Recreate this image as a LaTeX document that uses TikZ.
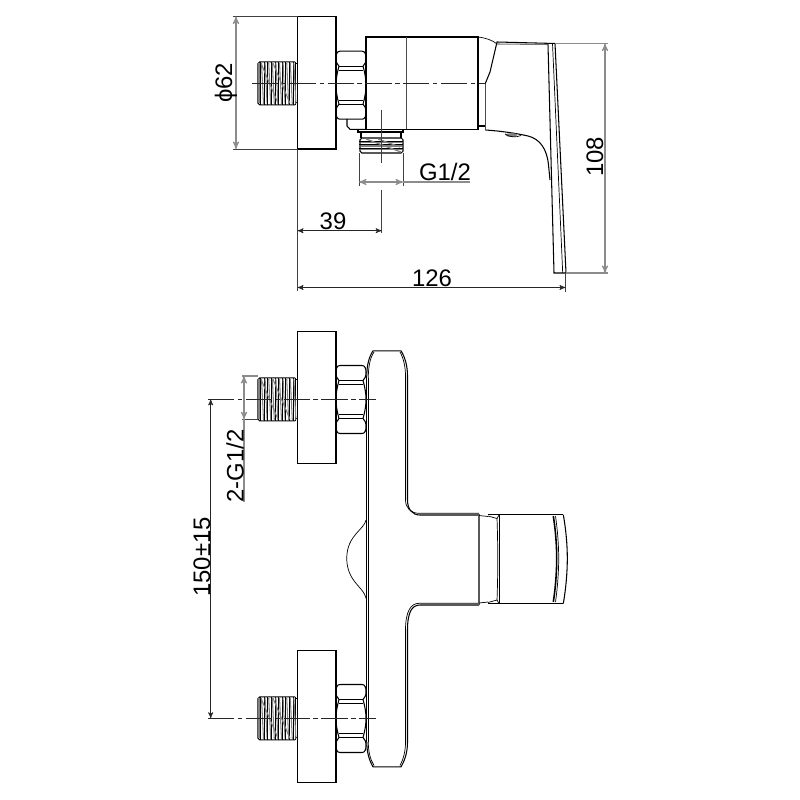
\documentclass[tikz,border=0pt]{standalone}
\usepackage{fontspec}
\setmainfont{Liberation Sans}
\usetikzlibrary{arrows}
\tikzset{
  part/.style={line width=0.6pt, black},
  fine/.style={line width=0.4pt, black},
  dim/.style={line width=0.35pt, black!85, >=stealth'},
  softdim/.style={line width=0.6pt, black!45, >=stealth'},
  ext/.style={line width=0.35pt, black!75},
  softext/.style={line width=0.6pt, black!45},
  axis/.style={line width=0.35pt, black!85, dash pattern=on 15pt off 2pt on 2.5pt off 2pt},
  lbl/.style={inner sep=0pt, font=\fontsize{13.6}{16}\selectfont},
}
\begin{document}
\begin{tikzpicture}[x=0.02cm,y=-0.02cm]
    \useasboundingbox (0,0) rectangle (800,800);

    % wall plates
    \draw [part] (297.5,16.5) rectangle (336,149);
    \draw [part] (297.5,331.5) rectangle (336,463.5);
    \draw [part] (297.5,650.5) rectangle (336,782.5);

    % threaded ends
    \foreach \yc in {83.3,399.3,718.3} {
      \begin{scope}[shift={(0,\yc)}]
        \draw [part, rounded corners=1pt] (295,-21.5) -- (258,-21.5) -- (258,21.5) -- (295,21.5);
        \draw [fine] (295,-21.5) -- (295,21.5);
        \draw [fine] (295,-19.5) -- (297.5,-19.5);
        \draw [fine] (295,19.5) -- (297.5,19.5);
        \fill [gray] (258,-20) rectangle (260.5,20);
        \foreach \x in {0,...,9} {
          \draw [fine] ({260.5+\x*3.6},-21.5) -- ({260.5+\x*3.6},21.5);
          \draw [line width=0.6pt, gray] ({261.5+\x*3.6},-20.5) -- ({263.5+\x*3.6},20.5);
        }
        \draw [line width=0.6pt, gray] (261,-20) -- (278,20) (273,-20) -- (290,20);
      \end{scope}
    }

    % nuts
    \foreach \yn in {85.2,399.5,718.5} {
      \foreach \s in {-1,1} {
        \begin{scope}[shift={(0,\yn)},yscale=\s]
          \draw [part] (340,-34) -- (362,-34)
            .. controls (365,-34) and (366,-31) .. (366,-27)
            .. controls (366,-23) and (365,-21) .. (363,-19)
            .. controls (365,-12) and (366,-6) .. (366,0);
          \draw [part] (340,-34)
            .. controls (337,-34) and (336,-31) .. (336,-27)
            .. controls (336,-23) and (337,-21) .. (339,-19)
            .. controls (337,-12) and (336,-6) .. (336,0);
          \draw [part] (339,-19) -- (363,-19);
          \draw [part] (339,-15) -- (363,-15);
        \end{scope}
      }
    }

    % side view body
    \draw [part] (366,37) rectangle (478,129.3);
    \draw [line width=0.6pt, black!70] (406.7,37) -- (406.7,129.3);
    \draw [part] (347,119) -- (347,126) -- (350,129.3) -- (366,129.3);
    \draw [part] (358,129.3) -- (358,132) -- (403,132) -- (403,129.3);
    \draw [part] (361,132) -- (361,138) (401,132) -- (401,138);
    \draw [part, rounded corners=1pt] (360,138) -- (403,138) -- (403,153) -- (360,153) -- cycle;
    \foreach \yt in {141,144.5,148} {
      \draw [fine] (359,\yt) -- (403,\yt);
      \draw [line width=0.6pt, gray] (361,{\yt+1.5}) -- (402,{\yt+1.5});
    }
    \draw [line width=0.7pt, gray] (366,139) -- (401,152);
    \draw [line width=0.7pt, gray] (378,139) -- (400,147);

    % side view handle
    \draw [fine] (478,37) .. controls (486,38) and (492,40) .. (497,44);
    \draw [part] (478,126) -- (485.5,126);
    \draw [line width=0.6pt, black!70] (485.5,83) -- (485.5,130);
    \draw [part] (485.5,83) -- (490,72) -- (497,42) -- (555,43.5);
    \draw [line width=0.6pt, black!55] (497,44) -- (548,44.5);
    \draw [part] (555,43.5) -- (566,273) -- (554,273) -- (548,44.5);
    \draw [fine] (552.5,43.5) -- (562.7,273);
    \draw [part] (485.5,130) .. controls (500,131) and (515,133) .. (528,136)
      .. controls (540,139) and (547,149) .. (548.5,165) -- (550,180);
    \fill [gray] (511.5,135) ellipse (6 and 1.8);
    \draw [fine] (505,134) .. controls (510,137.5) and (516,137.5) .. (521,135.5);

    % front view body
    \draw [part] (366.8,742) -- (366.8,376);
    \draw [part] (368.3,742) -- (368.3,378);
    \draw [part] (366.8,376) .. controls (366.8,365) and (369,357) .. (373,350.8) -- (401,350.8)
      .. controls (405,357) and (407.5,366) .. (407.5,376) -- (407.5,500)
      .. controls (407.5,509) and (412,515) .. (420,515) -- (479,515);
    \draw [fine] (368.3,378) .. controls (368.3,367) and (370,358) .. (374,352);
    \draw [fine] (400,352) .. controls (403.5,358) and (405.5,367) .. (405.5,376) -- (405.5,500)
      .. controls (405.5,508) and (411,513.3) .. (419,513.3) -- (479,513.3);
    \draw [part] (366.8,742) .. controls (366.8,752) and (369,760) .. (373,766.8) -- (401,766.8)
      .. controls (405,760) and (407.5,752) .. (407.5,742) -- (407.5,630)
      .. controls (407.5,612) and (412,605) .. (420,605) -- (479,605);
    \draw [fine] (368.3,742) .. controls (368.3,751) and (370,759) .. (374,765.5);
    \draw [fine] (400,765.5) .. controls (403.5,759) and (405.5,751) .. (405.5,742) -- (405.5,630)
      .. controls (405.5,611) and (411,603.3) .. (419,603.3) -- (479,603.3);
    \draw [fine] (366,520) .. controls (364,530) and (347,535) .. (346.7,558.3)
      .. controls (347,582) and (364,587) .. (366,598.3);

    % front view handle
    \draw [line width=0.7pt, black!65] (479,514) -- (479,605);
    \draw [fine] (479,515.5) -- (488,516.5) (479,603) -- (488,602);
    \draw [part] (488,514.8) -- (563.3,514.8) (488,603.6) -- (563.3,603.6);
    \draw [fine] (488,516) -- (497,518.5) -- (499,515) (488,602.5) -- (497,600) -- (499,603.6);
    \draw [line width=1.1pt] (499.5,515) -- (499.5,603.6);
    \draw [fine] (497,518.5) .. controls (498,545) and (498,575) .. (497,600);
    \draw [part] (563.3,514.8) .. controls (566,530) and (567.3,545) .. (567.3,558.3)
      .. controls (567.3,572) and (566,588) .. (563.3,603.6);
    \draw [line width=0.9pt] (553.3,516) .. controls (555.5,530) and (556.7,545) .. (556.7,558.3)
      .. controls (556.7,572) and (555.5,588) .. (553.3,602);
    \draw [fine] (555.5,516) .. controls (557.5,530) and (558.7,545) .. (558.7,558.3)
      .. controls (558.7,572) and (557.5,588) .. (555.5,602);

    % centre lines
    \draw [axis] (252,83.3) -- (486,83.3);
    \draw [axis] (208,399.3) -- (376,399.3);
    \draw [axis] (208,718.3) -- (376,718.3);
    \draw [ext] (381.7,110) -- (381.7,163) (381.7,190) -- (381.7,233);

    % extension lines
    \draw [ext] (233,16.5) -- (297.5,16.5);
    \draw [ext] (233,149) -- (297.5,149);
    \draw [ext] (297.5,149) -- (297.5,291);
    \draw [ext] (359,153) -- (359,186) (403,153) -- (403,186);
    \draw [softext] (555,43.5) -- (608,43.5) (566,273) -- (608,273);
    \draw [ext] (565.5,273) -- (565.5,292);
    \draw [softext] (242,376) -- (258,376);
    \draw [ext] (242,419.3) -- (258,419.3);

    % dimensions
    \draw [softdim, <->] (236,16.5) -- (236,149);
    \draw [softdim, <->] (359,182) -- (403,182);
    \draw [softdim] (403,182) -- (470,182);
    \draw [dim, <->] (297.5,230.7) -- (381.7,230.7);
    \draw [dim, <->] (297.5,287.5) -- (565.5,287.5);
    \draw [softdim, <->] (605,43.5) -- (605,273);
    \draw [softdim, <->] (244,376) -- (244,419.3);
    \draw [softdim] (244,419.3) -- (244,501.5);
    \draw [dim, <->] (210.7,399.3) -- (210.7,718.3);

    \node[lbl, rotate=90] at (226,83) (dia) {ϕ62};
    \node[lbl] at (445,172) (gsize) {G1/2};
    \node[lbl] at (333,221) (off) {39};
    \node[lbl] at (432,278) (depth) {126};
    \node[lbl, rotate=90] at (595,157) (height) {108};
    \node[lbl, rotate=90] at (235,466) (gtwo) {2-G1/2};
    \node[lbl, rotate=90] at (202,557) (centres) {150±15};

    \end{tikzpicture}
\end{document}
